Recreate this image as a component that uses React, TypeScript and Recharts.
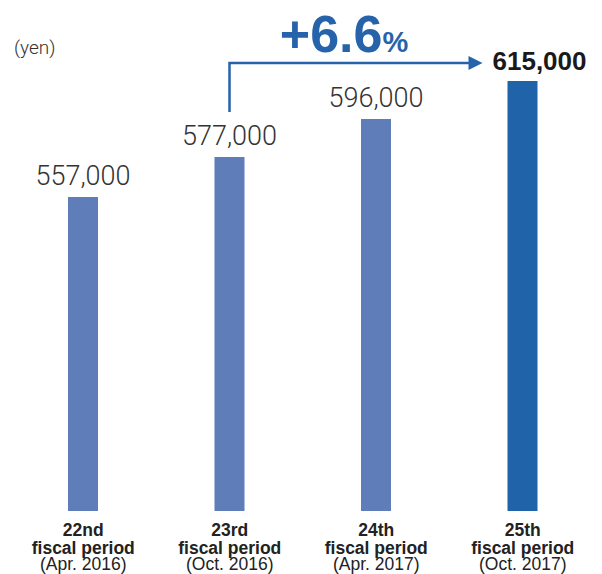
import { Bar, BarChart, Cell, XAxis, YAxis, LabelList } from "recharts"

const periods = ["22nd", "23rd", "24th", "25th"]
const periodDates = ["(Apr. 2016)", "(Oct. 2016)", "(Apr. 2017)", "(Oct. 2017)"]
const distributions = [557000, 577000, 596000, 615000]
const growthText = "+6.6"

const BAR_COLORS = ["#5f7db9", "#5f7db9", "#5f7db9", "#2163a8"]
const ARROW_COLOR = "#2763ab"

const WIDTH = 602
const HEIGHT = 574
const MARGIN = { top: 21, right: 6, bottom: 3, left: 10 }
const STEP = (WIDTH - MARGIN.left - MARGIN.right) / periods.length

const data = periods.map((period, i) => ({
  period,
  date: periodDates[i],
  value: distributions[i],
}))

const PeriodTick = ({ x, y, payload, index }: any) => (
  <g transform={`translate(${x},${y})`}>
    <text textAnchor="middle" fill="#222" fontFamily="Liberation Sans, Arial, sans-serif" fontSize={17.5}>
      <tspan x={0} dy={17} fontWeight="bold">{payload.value}</tspan>
      <tspan x={0} dy={18} fontWeight="bold">fiscal period</tspan>
      <tspan x={0} dy={16}>{periodDates[index]}</tspan>
    </text>
  </g>
)

const ValueLabel = (props: any) => {
  const { x, y, width, value, index } = props
  const cx = x + width / 2
  const last = index === distributions.length - 1
  const text = value.toLocaleString("en-US")
  return (
    <g>
      {last ? (
        <text x={cx + 17} y={y - 11} textAnchor="middle" fill="#1a1a1a" fontFamily="Liberation Sans, Arial, sans-serif" fontWeight="bold" fontSize={26}>
          {text}
        </text>
      ) : (
        <text x={cx} y={y - 12} textAnchor="middle" fill="#333" fontFamily="Roboto, sans-serif" fontWeight={300} fontSize={27}>
          {text}
        </text>
      )}
      {index === 1 && (
        <g>
          <polyline
            points={`${cx},${y - 45} ${cx},${y - 94} ${cx + 2 * STEP - 52},${y - 94}`}
            fill="none"
            stroke={ARROW_COLOR}
            strokeWidth={2.5}
          />
          <polygon
            points={`${cx + 2 * STEP - 54},${y - 101} ${cx + 2 * STEP - 40},${y - 94} ${cx + 2 * STEP - 54},${y - 87}`}
            fill={ARROW_COLOR}
          />
          <text x={cx + STEP - 32} y={y - 105} textAnchor="middle" fill={ARROW_COLOR} fontFamily="Liberation Sans, Arial, sans-serif" fontWeight="bold">
            <tspan fontSize={52}>{growthText}</tspan>
            <tspan fontSize={29}>%</tspan>
          </text>
        </g>
      )}
    </g>
  )
}

export default function App() {
  return (
    <div style={{ position: "absolute", left: 0, top: 0, width: WIDTH, height: HEIGHT, background: "#fff" }}>
      <BarChart width={WIDTH} height={HEIGHT} data={data} margin={MARGIN}>
        <XAxis dataKey="period" axisLine={false} tickLine={false} height={60} tick={<PeriodTick />} interval={0} />
        <YAxis hide domain={[400000, 645000]} allowDataOverflow />
        <Bar dataKey="value" barSize={30} isAnimationActive={false}>
          {data.map((entry, index) => (
            <Cell key={`cell-${index}`} fill={BAR_COLORS[index]} />
          ))}
          <LabelList dataKey="value" content={<ValueLabel />} />
        </Bar>
      </BarChart>
      <div
        style={{
          position: "absolute",
          left: 14,
          top: 38,
          fontFamily: "Roboto, sans-serif",
          fontWeight: 300,
          fontSize: 19,
          lineHeight: "19px",
          color: "#333",
        }}
      >
        (yen)
      </div>
    </div>
  )
}
